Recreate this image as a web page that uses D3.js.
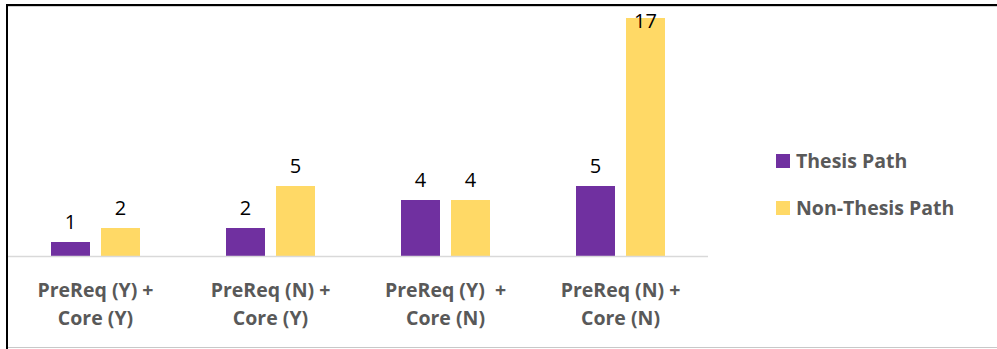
<!DOCTYPE html>
<html>
<head>
<meta charset="utf-8">
<script src="https://cdn.jsdelivr.net/npm/d3@7"></script>
<style>
  body { margin: 0; background: #fff; }
  svg { display: block; }
</style>
</head>
<body>
<svg id="chart" width="997" height="349"></svg>
<script>
const categories = [
  ["PreReq (Y) +", "Core (Y)"],
  ["PreReq (N) +", "Core (Y)"],
  ["PreReq (Y)  +", "Core (N)"],
  ["PreReq (N) +", "Core (N)"]
];
const seriesNames = ["Thesis Path", "Non-Thesis Path"];
const thesis = [1, 2, 4, 5];
const nonThesis = [2, 5, 4, 17];
const colors = ["#7030a0", "#ffd966"];

const svg = d3.select("#chart");

// frame (cropped excel box)
svg.append("rect").attr("x", 0).attr("y", 0).attr("width", 997).attr("height", 349).attr("fill", "#fff");
svg.append("line").attr("x1", 6).attr("x2", 997).attr("y1", 6.5).attr("y2", 6.5).attr("stroke", "#d0d0d0").attr("stroke-width", 1);
svg.append("line").attr("x1", 6).attr("x2", 997).attr("y1", 5).attr("y2", 5).attr("stroke", "#000").attr("stroke-width", 2);
svg.append("line").attr("x1", 7).attr("x2", 7).attr("y1", 4).attr("y2", 349).attr("stroke", "#000").attr("stroke-width", 2);
svg.append("line").attr("x1", 8).attr("x2", 997).attr("y1", 347.5).attr("y2", 347.5).attr("stroke", "#c8c8c8").attr("stroke-width", 1);

const x0 = d3.scaleBand().domain(d3.range(categories.length)).range([8, 708]).padding(0);
const x1 = d3.scaleBand().domain([0, 1]).range([0, 89]).paddingInner(0.22);
const y = d3.scaleLinear().domain([0, 17]).range([256, 18]);

const data = categories.map((c, i) => ({ i, vals: [thesis[i], nonThesis[i]] }));

const groups = svg.append("g").selectAll("g")
  .data(data)
  .enter().append("g")
  .attr("transform", d => "translate(" + (x0(d.i) + (x0.bandwidth() - 89) / 2) + ",0)");

groups.selectAll("rect")
  .data(d => d.vals.map((v, s) => ({ v, s })))
  .enter().append("rect")
  .attr("x", d => x1(d.s))
  .attr("y", d => y(d.v))
  .attr("width", x1.bandwidth())
  .attr("height", d => y(0) - y(d.v))
  .attr("fill", d => colors[d.s]);

groups.selectAll("text.val")
  .data(d => d.vals.map((v, s) => ({ v, s })))
  .enter().append("text")
  .attr("class", "val")
  .attr("x", d => x1(d.s) + x1.bandwidth() / 2)
  .attr("y", d => Math.max(y(d.v) - 13, 28))
  .attr("text-anchor", "middle")
  .attr("font-family", "Open Sans, sans-serif")
  .attr("font-size", "20px")
  .attr("fill", "#000")
  .text(d => d.v);

// axis baseline
svg.append("line").attr("x1", 8).attr("x2", 708).attr("y1", 256.5).attr("y2", 256.5)
  .attr("stroke", "#d9d9d9").attr("stroke-width", 1.5);

// category labels
const lab = svg.append("g").selectAll("text")
  .data(categories)
  .enter().append("text")
  .attr("x", (d, i) => x0(i) + x0.bandwidth() / 2)
  .attr("text-anchor", "middle")
  .attr("font-family", "Open Sans, sans-serif")
  .attr("font-weight", "bold")
  .attr("font-size", "19.5px")
  .attr("fill", "#595959")
  .attr("xml:space", "preserve");
lab.append("tspan").attr("x", (d, i) => x0(i) + x0.bandwidth() / 2).attr("y", 297).text(d => d[0]);
lab.append("tspan").attr("x", (d, i) => x0(i) + x0.bandwidth() / 2).attr("y", 325).text(d => d[1]);

// legend
const leg = svg.append("g").selectAll("g")
  .data(seriesNames)
  .enter().append("g")
  .attr("transform", (d, i) => "translate(776," + (154 + i * 47) + ")");
leg.append("rect").attr("width", 14).attr("height", 14).attr("fill", (d, i) => colors[i]);
leg.append("text")
  .attr("x", 20).attr("y", 14)
  .attr("font-family", "Open Sans, sans-serif")
  .attr("font-weight", "bold")
  .attr("font-size", "19.5px")
  .attr("fill", "#595959")
  .text(d => d);
</script>
</body>
</html>
